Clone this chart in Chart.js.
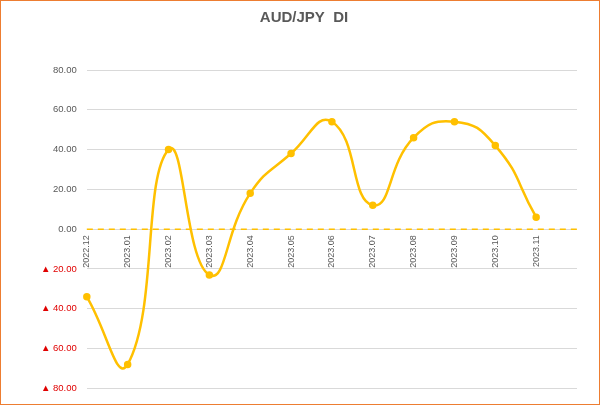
<!DOCTYPE html>
<html><head><script src="https://cdn.jsdelivr.net/npm/chart.js"></script>
<style>body{margin:0;background:#fff}#w{position:absolute;left:0;top:0;width:598px;height:403px;border:1px solid #ED7D31;}</style></head>
<body><div id="w"><canvas id="c"></canvas></div>
<script>
const categories=['2022.12','2023.01','2023.02','2023.03','2023.04','2023.05','2023.06','2023.07','2023.08','2023.09','2023.10','2023.11',''];
const diValues=[-34,-68,40,-23,18,38,54,12,46,54,42,6];
const yTicks=[-80,-60,-40,-20,0,20,40,60,80];
const catLabels={id:'cl',afterDatasetsDraw(ch){const x=ch.scales.x,y=ch.scales.y,c=ch.ctx;const y0=y.getPixelForValue(0);
c.save();c.strokeStyle='#FFC000';c.lineWidth=1.5;c.setLineDash([6,5]);c.beginPath();c.moveTo(ch.chartArea.left,y0);c.lineTo(ch.chartArea.right,y0);c.stroke();c.restore();
c.save();c.font='9px "Liberation Sans", Arial';c.fillStyle='#595959';c.textAlign='right';c.textBaseline='middle';
categories.forEach((l,i)=>{if(!l)return;c.save();c.translate(x.getPixelForValue(i),y0+6);c.rotate(-Math.PI/2);c.fillText(l,0,0);c.restore();});c.restore();}};
new Chart(document.getElementById('c'),{type:'line',
data:{labels:categories,datasets:[{data:diValues,borderColor:'#FFC000',backgroundColor:'#FFC000',borderWidth:2.5,tension:0.5,pointRadius:2.5,pointBackgroundColor:'#FFC000'}]},
options:{responsive:true,maintainAspectRatio:false,animation:false,
layout:{padding:{left:30,right:22,top:0,bottom:2}},
plugins:{legend:{display:false},tooltip:{enabled:false},
title:{display:true,text:'AUD/JPY  DI',color:'#595959',font:{size:15,weight:'bold',family:'"Liberation Sans", Arial'},padding:{top:8,bottom:43}}},
scales:{x:{offset:false,grid:{display:false},border:{display:false},ticks:{display:false}},
y:{min:-80,max:80,afterBuildTicks(s){s.ticks=yTicks.map(v=>({value:v}));},
grid:{color:'#D9D9D9',drawTicks:false},border:{display:false},
ticks:{padding:10,font:{size:9.5,family:'"Liberation Sans", Arial'},
color:c=>c.tick&&c.tick.value<0?'#E00000':'#595959',
callback:v=>v<0?'▲ '+Math.abs(v).toFixed(2):v.toFixed(2)}}}},
plugins:[catLabels]});
</script></body></html>
